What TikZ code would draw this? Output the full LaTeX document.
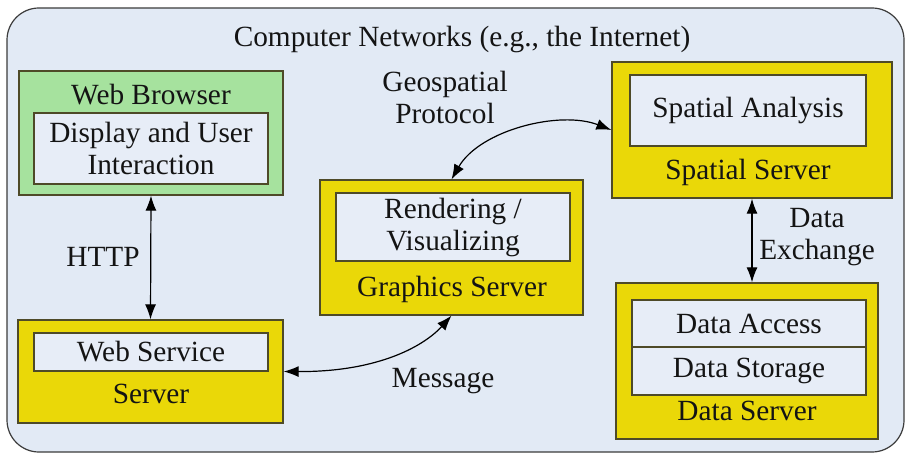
\documentclass[tikz,border=0pt]{standalone}
\usepackage{fontspec}
\setmainfont{Liberation Serif}
\usetikzlibrary{arrows.meta}
\definecolor{bgblue}{RGB}{226,234,245}
\definecolor{innerblue}{RGB}{231,237,247}
\definecolor{srvyellow}{RGB}{234,216,8}
\definecolor{brgreen}{RGB}{166,226,158}
\definecolor{boxline}{RGB}{78,74,40}
\definecolor{outline}{RGB}{60,60,60}
\definecolor{txt}{RGB}{20,20,20}
\begin{document}
\begin{tikzpicture}[x=1pt,y=-1pt,
  every node/.style={font=\fontsize{29.3}{32}\selectfont, text=txt, inner sep=0pt},
  srv/.style={draw=boxline, line width=1.3pt, fill=srvyellow},
  brw/.style={draw=boxline, line width=1.3pt, fill=brgreen},
  inner/.style={draw=boxline, line width=1.2pt, fill=innerblue, align=center},
  lbl/.style={align=center},
  link/.style={draw=black, line width=1.2pt, {Latex[length=15pt,width=11pt]}-{Latex[length=15pt,width=11pt]}}
]
\useasboundingbox (0,0) rectangle (907,454);
\draw[outline, line width=1.2pt, fill=bgblue, rounded corners=32pt] (7,8) rectangle (904,452);
\node[lbl] (title) at (462,40) {Computer Networks (e.g., the Internet)};

% Web Browser
\node[brw, minimum width=264pt, minimum height=124pt] (wb) at (151,133) {};
\node[lbl] (wbt) at (151,95) {Web Browser};
\node[inner, minimum width=234pt, minimum height=71pt] (wbi) at (151,148.5) {Display and User\\Interaction};

% Web Service Server
\node[srv, minimum width=265pt, minimum height=103pt] (ws) at (150.5,371.5) {};
\node[inner, minimum width=234pt, minimum height=38pt] (wsi) at (151,352) {Web Service};
\node[lbl] (wst) at (151,394) {Server};

% Graphics Server
\node[srv, minimum width=263pt, minimum height=135pt] (gs) at (451.5,247.5) {};
\node[inner, minimum width=234pt, minimum height=68pt] (gsi) at (453,227) {Rendering /\\Visualizing};
\node[lbl] (gst) at (452,289) {Graphics Server};

% Spatial Server
\node[srv, minimum width=280pt, minimum height=136pt] (ss) at (752,130) {};
\node[inner, minimum width=236pt, minimum height=71pt] (ssi) at (748,110.5) {Spatial Analysis};
\node[lbl] (sst) at (748,172) {Spatial Server};

% Data Server
\node[srv, minimum width=262pt, minimum height=156pt] (ds) at (747,361) {};
\node[inner, minimum width=234pt, minimum height=47pt] (dsa) at (749,323.5) {Data Access};
\node[inner, minimum width=234pt, minimum height=48pt] (dss) at (749,371) {Data Storage};
\node[lbl] (dst) at (747,411) {Data Server};

% labels
\node[lbl] (http) at (103,257) {HTTP};
\node[lbl] (geo) at (445,97) {Geospatial\\Protocol};
\node[lbl] (msg) at (443,381) {Message};
\node[lbl] (dex) at (817,237) {Data\\Exchange};

% connectors
\draw[link] (wb.south) -- (ws.north);
\draw[link] (gs.north) .. controls (480,130) and (560,110) .. (ss.west);
\draw[link] (ws.east) .. controls (380,372) and (425,345) .. (gs.south);
\draw[link] (ss.south) -- (ss.south |- ds.north);
\end{tikzpicture}
\end{document}
